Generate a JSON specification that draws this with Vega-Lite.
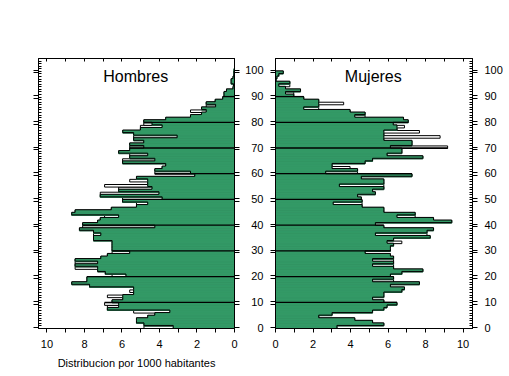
{
"$schema": "https://vega.github.io/schema/vega-lite/v6.json",
"padding": {"left": 32, "top": 57, "right": 0, "bottom": 0},
"background": "white",
"spacing": 41,
"bounds": "flush",
"config": {"view": {"stroke": "black", "strokeWidth": 1}, "axis": {"labelFont": "Liberation Sans", "labelFontSize": 11, "labelColor": "black", "tickColor": "black", "domainColor": "black", "domain": false, "grid": false, "titleFont": "Liberation Sans", "titleFontWeight": "normal", "titleColor": "black", "titleFontSize": 11}},
"datasets": {
"H": [{"age":0,"f":3.24,"w":4.8},{"age":1,"f":4.8,"w":4.8},{"age":2,"f":5.2,"w":5.2},{"age":3,"f":5.2,"w":5.2},{"age":4,"f":4.6,"w":4.6},{"age":5,"f":4.22,"w":4.22},{"age":6,"f":3.42,"w":5.35},{"age":7,"f":6.75,"w":6.75},{"age":8,"f":6.15,"w":6.75},{"age":9,"f":6.15,"w":6.9},{"age":10,"f":6.5,"w":6.5},{"age":11,"f":5.93,"w":5.93},{"age":12,"f":5.93,"w":6.75},{"age":13,"f":5.35,"w":5.35},{"age":14,"f":5.35,"w":5.56},{"age":15,"f":5.35,"w":5.35},{"age":16,"f":7.7,"w":7.7},{"age":17,"f":8.65,"w":8.65},{"age":18,"f":7.84,"w":7.84},{"age":19,"f":7.84,"w":7.84},{"age":20,"f":5.76,"w":6.5},{"age":21,"f":6.86,"w":6.86},{"age":22,"f":7.27,"w":7.27},{"age":23,"f":7.27,"w":8.47},{"age":24,"f":8.47,"w":8.47},{"age":25,"f":7.27,"w":8.47},{"age":26,"f":8.47,"w":8.47},{"age":27,"f":7.1,"w":7.1},{"age":28,"f":6.75,"w":6.75},{"age":29,"f":5.56,"w":6.5},{"age":30,"f":6.5,"w":6.5},{"age":31,"f":6.5,"w":6.5},{"age":32,"f":6.5,"w":6.5},{"age":33,"f":6.5,"w":6.5},{"age":34,"f":7.49,"w":7.49},{"age":35,"f":7.49,"w":7.49},{"age":36,"f":7.1,"w":7.49},{"age":37,"f":7.49,"w":7.49},{"age":38,"f":8.24,"w":8.24},{"age":39,"f":4.22,"w":8.07},{"age":40,"f":8.07,"w":8.07},{"age":41,"f":7.27,"w":7.27},{"age":42,"f":7.13,"w":7.13},{"age":43,"f":6.15,"w":6.9},{"age":44,"f":8.65,"w":8.65},{"age":45,"f":8.47,"w":8.47},{"age":46,"f":6.54,"w":6.54},{"age":47,"f":5.2,"w":5.2},{"age":48,"f":4.6,"w":5.2},{"age":49,"f":5.94,"w":5.94},{"age":50,"f":3.83,"w":5.94},{"age":51,"f":7.13,"w":7.13},{"age":52,"f":4.0,"w":7.13},{"age":53,"f":6.15,"w":6.15},{"age":54,"f":4.37,"w":6.15},{"age":55,"f":4.6,"w":6.9},{"age":56,"f":4.6,"w":4.6},{"age":57,"f":4.6,"w":5.56},{"age":58,"f":5.2,"w":5.2},{"age":59,"f":2.09,"w":2.09},{"age":60,"f":2.32,"w":4.22},{"age":61,"f":4.22,"w":4.22},{"age":62,"f":3.83,"w":3.83},{"age":63,"f":3.64,"w":3.64},{"age":64,"f":5.94,"w":5.94},{"age":65,"f":4.22,"w":5.94},{"age":66,"f":5.56,"w":5.56},{"age":67,"f":4.6,"w":5.56},{"age":68,"f":6.15,"w":6.15},{"age":69,"f":5.56,"w":5.56},{"age":70,"f":4.81,"w":5.56},{"age":71,"f":5.56,"w":5.56},{"age":72,"f":4.81,"w":4.81},{"age":73,"f":5.35,"w":5.35},{"age":74,"f":3.03,"w":5.35},{"age":75,"f":5.35,"w":5.35},{"age":76,"f":5.93,"w":5.93},{"age":77,"f":4.99,"w":4.99},{"age":78,"f":3.83,"w":4.99},{"age":79,"f":4.37,"w":4.81},{"age":80,"f":4.81,"w":4.81},{"age":81,"f":3.64,"w":3.64},{"age":82,"f":2.32,"w":2.32},{"age":83,"f":1.73,"w":1.73},{"age":84,"f":1.48,"w":2.32},{"age":85,"f":1.73,"w":1.73},{"age":86,"f":0.98,"w":1.48},{"age":87,"f":1.48,"w":1.48},{"age":88,"f":1.0,"w":1.0},{"age":89,"f":0.6,"w":0.6},{"age":90,"f":0.53,"w":0.53},{"age":91,"f":0.53,"w":0.53},{"age":92,"f":0.4,"w":0.4},{"age":93,"f":0.05,"w":0.05},{"age":94,"f":0.03,"w":0.03},{"age":95,"f":0.15,"w":0.15},{"age":96,"f":0.15,"w":0.15},{"age":97,"f":0.05,"w":0.05},{"age":98,"f":0,"w":0},{"age":99,"f":0,"w":0},{"age":100,"f":0,"w":0}],
"M": [{"age":0,"f":3.3,"w":3.3},{"age":1,"f":5.8,"w":5.8},{"age":2,"f":5.2,"w":5.2},{"age":3,"f":4.25,"w":4.25},{"age":4,"f":2.33,"w":2.33},{"age":5,"f":3.04,"w":3.04},{"age":6,"f":5.2,"w":5.2},{"age":7,"f":5.8,"w":5.8},{"age":8,"f":5.97,"w":5.97},{"age":9,"f":6.5,"w":6.5},{"age":10,"f":5.8,"w":5.8},{"age":11,"f":5.2,"w":5.2},{"age":12,"f":5.8,"w":5.8},{"age":13,"f":5.8,"w":5.8},{"age":14,"f":6.76,"w":6.76},{"age":15,"f":6.9,"w":6.9},{"age":16,"f":6.15,"w":6.15},{"age":17,"f":7.7,"w":7.7},{"age":18,"f":5.2,"w":6.32},{"age":19,"f":6.32,"w":6.32},{"age":20,"f":6.15,"w":6.15},{"age":21,"f":6.76,"w":6.76},{"age":22,"f":7.88,"w":7.88},{"age":23,"f":6.32,"w":6.32},{"age":24,"f":5.2,"w":6.32},{"age":25,"f":6.32,"w":6.32},{"age":26,"f":5.2,"w":6.32},{"age":27,"f":6.32,"w":6.32},{"age":28,"f":6.15,"w":6.15},{"age":29,"f":4.8,"w":4.8},{"age":30,"f":6.15,"w":6.15},{"age":31,"f":6.15,"w":6.15},{"age":32,"f":6.32,"w":6.32},{"age":33,"f":5.97,"w":6.76},{"age":34,"f":6.32,"w":6.32},{"age":35,"f":8.27,"w":8.27},{"age":36,"f":5.35,"w":8.1},{"age":37,"f":8.1,"w":8.1},{"age":38,"f":8.45,"w":8.45},{"age":39,"f":5.8,"w":5.8},{"age":40,"f":5.35,"w":5.35},{"age":41,"f":9.42,"w":9.42},{"age":42,"f":8.45,"w":8.45},{"age":43,"f":6.5,"w":7.47},{"age":44,"f":7.47,"w":7.47},{"age":45,"f":5.8,"w":5.8},{"age":46,"f":5.8,"w":5.8},{"age":47,"f":4.64,"w":4.64},{"age":48,"f":3.1,"w":4.64},{"age":49,"f":4.64,"w":4.64},{"age":50,"f":4.6,"w":4.6},{"age":51,"f":4.4,"w":4.4},{"age":52,"f":5.35,"w":5.35},{"age":53,"f":5.2,"w":5.2},{"age":54,"f":5.8,"w":5.8},{"age":55,"f":3.43,"w":5.8},{"age":56,"f":5.8,"w":5.8},{"age":57,"f":5.8,"w":5.8},{"age":58,"f":4.6,"w":4.6},{"age":59,"f":7.3,"w":7.3},{"age":60,"f":2.7,"w":4.4},{"age":61,"f":4.4,"w":4.4},{"age":62,"f":3.04,"w":4.0},{"age":63,"f":3.04,"w":3.04},{"age":64,"f":4.8,"w":4.8},{"age":65,"f":5.2,"w":5.2},{"age":66,"f":7.88,"w":7.88},{"age":67,"f":5.97,"w":5.97},{"age":68,"f":6.76,"w":6.76},{"age":69,"f":6.76,"w":6.76},{"age":70,"f":6.15,"w":9.2},{"age":71,"f":7.3,"w":7.3},{"age":72,"f":7.3,"w":7.3},{"age":73,"f":5.8,"w":5.8},{"age":74,"f":5.8,"w":8.8},{"age":75,"f":5.8,"w":5.8},{"age":76,"f":5.8,"w":7.7},{"age":77,"f":6.5,"w":6.5},{"age":78,"f":6.5,"w":6.9},{"age":79,"f":6.3,"w":6.3},{"age":80,"f":7.1,"w":7.1},{"age":81,"f":6.85,"w":6.85},{"age":82,"f":4.25,"w":4.8},{"age":83,"f":4.8,"w":4.8},{"age":84,"f":4.0,"w":4.0},{"age":85,"f":1.53,"w":2.33},{"age":86,"f":2.33,"w":2.33},{"age":87,"f":2.33,"w":3.66},{"age":88,"f":2.33,"w":2.33},{"age":89,"f":1.53,"w":1.53},{"age":90,"f":1.0,"w":1.0},{"age":91,"f":0.56,"w":1.0},{"age":92,"f":1.36,"w":1.36},{"age":93,"f":0.56,"w":0.56},{"age":94,"f":0.2,"w":0.79},{"age":95,"f":0.79,"w":0.79},{"age":96,"f":0.05,"w":0.05},{"age":97,"f":0.1,"w":0.1},{"age":98,"f":0.2,"w":0.2},{"age":99,"f":0.44,"w":0.44},{"age":100,"f":0,"w":0}],
"HD": [{"age":10,"len":6.9},{"age":20,"len":7.84},{"age":30,"len":6.5},{"age":40,"len":8.07},{"age":50,"len":5.94},{"age":60,"len":4.22},{"age":70,"len":5.56},{"age":80,"len":4.81},{"age":90,"len":0.6}],
"MD": [{"age":10,"len":6.5},{"age":20,"len":6.32},{"age":30,"len":6.15},{"age":40,"len":5.8},{"age":50,"len":4.64},{"age":60,"len":7.3},{"age":70,"len":9.2},{"age":80,"len":7.1},{"age":90,"len":1.53}]
},
"hconcat": [
{
"width": 196, "height": 270,
"data": {"name": "H"},
"resolve": {"axis": {"x": "independent", "y": "independent"}},
"layer": [
{"mark": {"type": "bar", "fill": "white", "stroke": "black", "strokeWidth": 1, "binSpacing": 0, "clip": true},
 "encoding": {
  "y": {"field": "age", "type": "quantitative", "bin": {"step": 1, "extent": [0, 101]}, "scale": {"domain": [0, 105], "nice": false, "zero": false}, "axis": {"orient": "left", "values": [-0.5,0.5,9.5,10.5,19.5,20.5,29.5,30.5,39.5,40.5,49.5,50.5,59.5,60.5,69.5,70.5,79.5,80.5,89.5,90.5,99.5,100.5], "labels": false, "tickSize": 5, "title": null, "domain": true, "zindex": 1}},
  "x": {"field": "w", "type": "quantitative", "scale": {"domain": [0, 10.45], "nice": false, "reverse": true}, "axis": {"orient": "bottom", "values": [0,1,2,3,4,5,6,7,8,9,10], "labelExpr": "datum.value % 2 === 0 ? datum.label : ''", "tickSize": 4, "labelPadding": 6, "title": "Distribucion por 1000 habitantes", "titlePadding": 8, "domain": true, "zindex": 1, "labelFlush": false}}
 }},
{"mark": {"type": "bar", "fill": "#339966", "stroke": "#339966", "strokeWidth": 0.8, "binSpacing": 0, "clip": true},
 "encoding": {
  "y": {"field": "age", "type": "quantitative", "bin": {"step": 1, "extent": [0, 101]}, "axis": {"orient": "right", "values": [-0.5,0.5,9.5,10.5,19.5,20.5,29.5,30.5,39.5,40.5,49.5,50.5,59.5,60.5,69.5,70.5,79.5,80.5,89.5,90.5,99.5,100.5], "labels": false, "tickSize": 5, "title": null, "domain": true, "zindex": 1}},
  "x": {"field": "f", "type": "quantitative", "axis": {"orient": "top", "values": [0,1,2,3,4,5,6,7,8,9,10], "labels": false, "tickSize": -3, "title": null, "domain": true, "zindex": 1}}
 }},
{"mark": {"type": "line", "interpolate": "step-before", "color": "black", "strokeWidth": 1, "clip": true},
 "encoding": {
  "y": {"field": "age", "type": "quantitative", "axis": {"orient": "left", "values": [0,1,2,3,4,5,6,7,8,9,10,11,12,13,14,15,16,17,18,19,20,21,22,23,24,25,26,27,28,29,30,31,32,33,34,35,36,37,38,39,40,41,42,43,44,45,46,47,48,49,50,51,52,53,54,55,56,57,58,59,60,61,62,63,64,65,66,67,68,69,70,71,72,73,74,75,76,77,78,79,80,81,82,83,84,85,86,87,88,89,90,91,92,93,94,95,96,97,98,99,100,101,102,103,104], "labels": false, "tickSize": -3, "title": null, "zindex": 1}},
  "x": {"field": "f", "type": "quantitative", "axis": null},
  "order": {"field": "age", "type": "quantitative"}
 }},
{"data": {"name": "HD"}, "mark": {"type": "rule", "color": "black", "strokeWidth": 1.3},
 "encoding": {
  "y": {"field": "age", "type": "quantitative", "axis": null},
  "x": {"field": "len", "type": "quantitative", "axis": null},
  "x2": {"datum": 0}
 }},
{"data": {"values": [{"t": "Hombres"}]}, "mark": {"type": "text", "font": "Liberation Sans", "fontSize": 16, "baseline": "middle", "color": "black"},
 "encoding": {
  "text": {"field": "t"},
  "x": {"datum": 5.24, "type": "quantitative", "axis": null},
  "y": {"datum": 97.7, "type": "quantitative", "axis": null}
 }}
]
},
{
"width": 197, "height": 270,
"data": {"name": "M"},
"resolve": {"axis": {"x": "independent", "y": "independent"}},
"layer": [
{"mark": {"type": "bar", "fill": "white", "stroke": "black", "strokeWidth": 1, "binSpacing": 0, "clip": true},
 "encoding": {
  "y": {"field": "age", "type": "quantitative", "bin": {"step": 1, "extent": [0, 101]}, "scale": {"domain": [0, 105], "nice": false, "zero": false}, "axis": {"orient": "left", "values": [0,10,20,30,40,50,60,70,80,90,100], "tickSize": 5, "tickOpacity": 0, "labelPadding": 7, "title": null, "domain": true, "zindex": 1}},
  "x": {"field": "w", "type": "quantitative", "scale": {"domain": [0, 10.5], "nice": false}, "axis": {"orient": "bottom", "values": [0,1,2,3,4,5,6,7,8,9,10], "labelExpr": "datum.value % 2 === 0 ? datum.label : ''", "tickSize": 4, "labelPadding": 6, "title": null, "domain": true, "zindex": 1, "labelFlush": false}}
 }},
{"mark": {"type": "bar", "fill": "#339966", "stroke": "#339966", "strokeWidth": 0.8, "binSpacing": 0, "clip": true},
 "encoding": {
  "y": {"field": "age", "type": "quantitative", "bin": {"step": 1, "extent": [0, 101]}, "axis": {"orient": "right", "values": [0,10,20,30,40,50,60,70,80,90,100], "tickSize": 5, "tickOpacity": 0, "labelPadding": 7, "title": null, "domain": true, "zindex": 1}},
  "x": {"field": "f", "type": "quantitative", "axis": {"orient": "top", "values": [0,1,2,3,4,5,6,7,8,9,10], "labels": false, "tickSize": -3, "title": null, "domain": true, "zindex": 1}}
 }},
{"mark": {"type": "line", "interpolate": "step-before", "color": "black", "strokeWidth": 1, "clip": true},
 "encoding": {
  "y": {"field": "age", "type": "quantitative", "axis": {"orient": "right", "values": [0,1,2,3,4,5,6,7,8,9,10,11,12,13,14,15,16,17,18,19,20,21,22,23,24,25,26,27,28,29,30,31,32,33,34,35,36,37,38,39,40,41,42,43,44,45,46,47,48,49,50,51,52,53,54,55,56,57,58,59,60,61,62,63,64,65,66,67,68,69,70,71,72,73,74,75,76,77,78,79,80,81,82,83,84,85,86,87,88,89,90,91,92,93,94,95,96,97,98,99,100,101,102,103,104], "labels": false, "tickSize": -3, "title": null, "zindex": 1}},
  "x": {"field": "f", "type": "quantitative", "axis": null},
  "order": {"field": "age", "type": "quantitative"}
 }},
{"data": {"name": "MD"}, "mark": {"type": "rule", "color": "black", "strokeWidth": 1.3},
 "encoding": {
  "y": {"field": "age", "type": "quantitative", "axis": {"orient": "left", "values": [-0.5,0.5,9.5,10.5,19.5,20.5,29.5,30.5,39.5,40.5,49.5,50.5,59.5,60.5,69.5,70.5,79.5,80.5,89.5,90.5,99.5,100.5], "labels": false, "tickSize": 5, "title": null, "zindex": 1}},
  "x": {"field": "len", "type": "quantitative", "axis": null},
  "x2": {"datum": 0}
 }},
{"data": {"values": [{"t": "Mujeres"}]}, "mark": {"type": "text", "font": "Liberation Sans", "fontSize": 16, "baseline": "middle", "color": "black"},
 "encoding": {
  "text": {"field": "t"},
  "x": {"datum": 5.24, "type": "quantitative", "axis": null},
  "y": {"datum": 97.7, "type": "quantitative", "axis": {"orient": "right", "values": [-0.5,0.5,9.5,10.5,19.5,20.5,29.5,30.5,39.5,40.5,49.5,50.5,59.5,60.5,69.5,70.5,79.5,80.5,89.5,90.5,99.5,100.5], "labels": false, "tickSize": 5, "title": null, "zindex": 1}}
 }}
]
}
]
}
